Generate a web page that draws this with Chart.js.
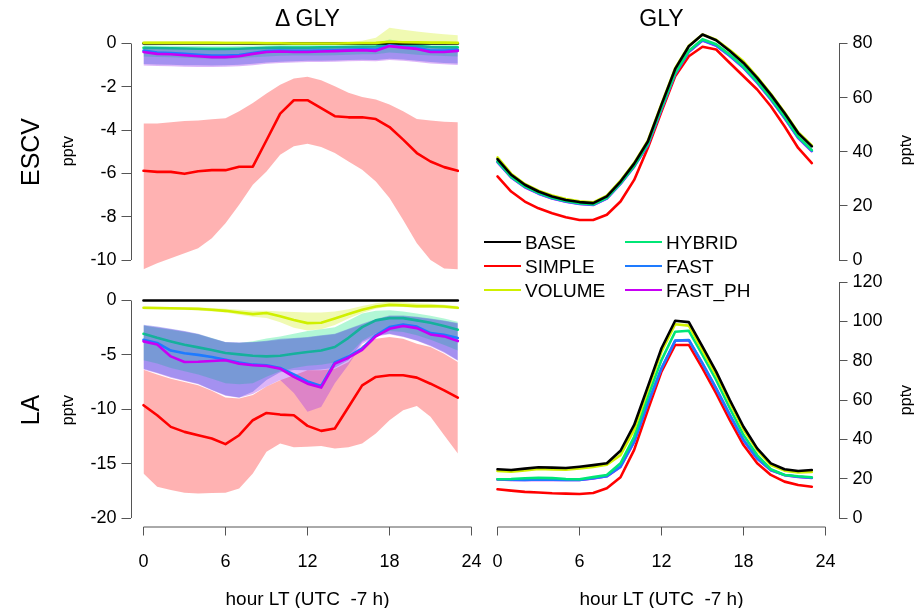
<!DOCTYPE html>
<html>
<head>
<meta charset="utf-8">
<script src="https://cdn.jsdelivr.net/npm/chart.js@4.4.1/dist/chart.umd.min.js"></script>
<style>
  body { margin: 0; background: #fff; font-family: "Liberation Sans", Arial, sans-serif; }
  #fig { position: relative; width: 922px; height: 608px; overflow: hidden; }
  #fig canvas { position: absolute; left: 0; top: 0; }
  .t { position: absolute; white-space: pre; color: #000; line-height: 1; }
  .c { transform: translate(-50%, -50%); }
  .r { transform: translate(-50%, -50%) rotate(-90deg); }
  .sw { position: absolute; width: 37px; height: 0; border-top: 2.5px solid; transform: translateY(-50%); }
  .lt { position: absolute; font-size: 19px; line-height: 1; transform: translateY(-50%); }
</style>
</head>
<body>
<div id="fig">
  <canvas id="tl" width="922" height="608"></canvas>
  <canvas id="bl" width="922" height="608"></canvas>
  <canvas id="tr" width="922" height="608"></canvas>
  <canvas id="br" width="922" height="608"></canvas>

  <div class="t c" style="left:307.5px;top:18px;font-size:23px">Δ GLY</div>
  <div class="t c" style="left:661.5px;top:18px;font-size:23px">GLY</div>
  <div class="t r" style="left:30px;top:152px;font-size:25px">ESCV</div>
  <div class="t r" style="left:30px;top:410px;font-size:25px">LA</div>
  <div class="t r" style="left:68px;top:151px;font-size:16px">pptv</div>
  <div class="t r" style="left:68px;top:410px;font-size:16px">pptv</div>
  <div class="t r" style="left:906px;top:150px;font-size:16px">pptv</div>
  <div class="t r" style="left:906px;top:400px;font-size:16px">pptv</div>
  <div class="t c" style="left:307.5px;top:598px;font-size:19px">hour LT (UTC  -7 h)</div>
  <div class="t c" style="left:661.5px;top:598px;font-size:19px">hour LT (UTC  -7 h)</div>
  <div id="legend"></div>
</div>

<script>
// hours of the day (local time)
const hours = [0,1,2,3,4,5,6,7,8,9,10,11,12,13,14,15,16,17,18,19,20,21,22,23];

const xTicks = [0, 6, 12, 18, 24];
const escvDeltaTicks = [0, -2, -4, -6, -8, -10];
const laDeltaTicks = [0, -5, -10, -15, -20];
const escvGlyTicks = [0, 20, 40, 60, 80];
const laGlyTicks = [0, 20, 40, 60, 80, 100, 120];

const seriesNames = ['BASE', 'SIMPLE', 'VOLUME', 'HYBRID', 'FAST', 'FAST_PH'];

// ---- ESCV, difference to BASE (pptv) ----
const escvDeltaBase = [0,0,0,0,0,0,0,0,0,0,0,0,0,0,0,0,0,0,0,0,0,0,0,0];
const escvDeltaSimple = [-5.88,-5.93,-5.93,-6.02,-5.90,-5.85,-5.85,-5.69,-5.69,-4.47,-3.24,-2.62,-2.62,-2.99,-3.36,-3.41,-3.41,-3.49,-3.86,-4.44,-5.06,-5.45,-5.71,-5.88];
const escvDeltaSimpleHi = [-3.70,-3.70,-3.64,-3.58,-3.56,-3.50,-3.45,-3.13,-2.75,-2.31,-1.91,-1.62,-1.54,-1.70,-1.97,-2.28,-2.47,-2.59,-2.82,-3.13,-3.49,-3.56,-3.61,-3.64];
const escvDeltaSimpleLo = [-10.43,-10.15,-9.92,-9.69,-9.46,-8.99,-8.30,-7.45,-6.53,-5.91,-5.14,-4.75,-4.63,-4.78,-5.06,-5.45,-5.83,-6.37,-7.14,-8.15,-9.23,-10.00,-10.39,-10.43];
const escvDeltaVolume = [0.03,0.03,0.03,0.03,0.03,0.03,0.02,0.02,0.02,0.01,0.01,0.00,0.00,0.00,0.00,0.01,0.02,0.03,0.08,0.06,0.05,0.04,0.04,0.03];
const escvDeltaVolumeHi = [0.12,0.12,0.12,0.11,0.11,0.11,0.10,0.10,0.10,0.09,0.09,0.08,0.08,0.08,0.08,0.09,0.13,0.26,0.73,0.64,0.56,0.49,0.43,0.38];
const escvDeltaVolumeLo = [-0.06,-0.06,-0.06,-0.06,-0.06,-0.06,-0.06,-0.06,-0.06,-0.07,-0.07,-0.07,-0.07,-0.07,-0.07,-0.06,-0.06,-0.05,-0.04,-0.04,-0.05,-0.05,-0.05,-0.06];
const escvDeltaHybrid = [-0.20,-0.21,-0.22,-0.23,-0.24,-0.25,-0.25,-0.24,-0.22,-0.20,-0.19,-0.19,-0.19,-0.18,-0.17,-0.16,-0.15,-0.14,-0.04,-0.08,-0.11,-0.16,-0.18,-0.18];
const escvDeltaHybridHi = [-0.08,-0.09,-0.10,-0.11,-0.12,-0.13,-0.13,-0.12,-0.10,-0.08,-0.07,-0.07,-0.07,-0.06,-0.05,-0.04,-0.02,0.00,0.18,0.08,0.02,-0.04,-0.06,-0.07];
const escvDeltaHybridLo = [-0.60,-0.62,-0.64,-0.66,-0.68,-0.70,-0.70,-0.68,-0.64,-0.60,-0.57,-0.56,-0.55,-0.55,-0.54,-0.52,-0.50,-0.50,-0.42,-0.46,-0.52,-0.56,-0.58,-0.60];
const escvDeltaFast = [-0.33,-0.42,-0.44,-0.48,-0.52,-0.56,-0.56,-0.53,-0.44,-0.35,-0.33,-0.34,-0.34,-0.33,-0.31,-0.29,-0.27,-0.28,-0.08,-0.15,-0.20,-0.33,-0.33,-0.29];
const escvDeltaFastHi = [-0.15,-0.16,-0.17,-0.19,-0.20,-0.22,-0.22,-0.20,-0.17,-0.15,-0.14,-0.15,-0.15,-0.14,-0.13,-0.12,-0.10,-0.10,0.02,-0.02,-0.06,-0.12,-0.14,-0.15];
const escvDeltaFastLo = [-0.95,-0.97,-0.98,-1.00,-1.01,-1.02,-1.00,-0.98,-0.94,-0.88,-0.84,-0.82,-0.80,-0.80,-0.78,-0.76,-0.75,-0.76,-0.70,-0.74,-0.80,-0.86,-0.90,-0.92];
const escvDeltaPh = [-0.39,-0.48,-0.50,-0.54,-0.59,-0.63,-0.63,-0.59,-0.48,-0.39,-0.37,-0.39,-0.39,-0.37,-0.35,-0.33,-0.31,-0.34,-0.12,-0.19,-0.25,-0.39,-0.39,-0.34];
const escvDeltaPhHi = [-0.16,-0.17,-0.18,-0.20,-0.21,-0.23,-0.23,-0.21,-0.18,-0.16,-0.15,-0.16,-0.16,-0.15,-0.14,-0.13,-0.11,-0.11,0.01,-0.03,-0.07,-0.13,-0.15,-0.16];
const escvDeltaPhLo = [-1.02,-1.04,-1.05,-1.07,-1.08,-1.09,-1.07,-1.05,-1.00,-0.94,-0.90,-0.88,-0.86,-0.86,-0.84,-0.82,-0.81,-0.82,-0.76,-0.80,-0.86,-0.92,-0.96,-0.99];

// ---- LA, difference to BASE (pptv) ----
const laDeltaBase = [0,0,0,0,0,0,0,0,0,0,0,0,0,0,0,0,0,0,0,0,0,0,0,0];
const laDeltaSimple = [-9.63,-10.55,-11.62,-12.08,-12.39,-12.69,-13.21,-12.39,-11.01,-10.34,-10.49,-10.55,-11.53,-11.99,-11.77,-9.79,-7.80,-7.03,-6.88,-6.88,-7.09,-7.65,-8.26,-8.93];
const laDeltaSimpleHi = [-6.36,-6.80,-7.20,-7.50,-7.80,-8.30,-8.93,-9.00,-8.70,-7.90,-7.34,-6.88,-6.42,-6.42,-6.27,-5.66,-4.13,-3.52,-3.36,-3.52,-3.97,-4.28,-4.89,-5.66];
const laDeltaSimpleLo = [-15.90,-17.13,-17.43,-17.68,-17.74,-17.70,-17.68,-17.28,-15.90,-13.91,-13.15,-13.50,-13.45,-13.39,-13.60,-13.50,-13.15,-12.23,-11.01,-10.09,-9.69,-10.70,-12.39,-14.07];
const laDeltaVolume = [-0.67,-0.69,-0.71,-0.74,-0.77,-0.85,-0.95,-1.10,-1.25,-1.15,-1.45,-1.80,-2.08,-2.05,-1.65,-1.25,-0.86,-0.55,-0.40,-0.45,-0.52,-0.50,-0.55,-0.67];
const laDeltaVolumeHi = [-0.55,-0.57,-0.60,-0.62,-0.65,-0.70,-0.75,-0.85,-0.95,-0.95,-1.00,-1.05,-1.10,-1.10,-1.00,-0.80,-0.50,-0.25,-0.10,-0.15,-0.25,-0.30,-0.40,-0.50];
const laDeltaVolumeLo = [-0.80,-0.82,-0.85,-0.88,-0.90,-1.00,-1.10,-1.30,-1.50,-1.60,-2.00,-2.50,-2.75,-2.65,-2.25,-1.65,-1.15,-0.75,-0.55,-0.60,-0.70,-0.70,-0.72,-0.80];
const laDeltaHybrid = [-3.06,-3.43,-3.76,-4.07,-4.31,-4.56,-4.83,-4.95,-5.08,-5.14,-5.08,-4.89,-4.74,-4.59,-4.28,-3.43,-2.45,-1.83,-1.62,-1.62,-1.83,-2.05,-2.35,-2.69];
const laDeltaHybridHi = [-2.30,-2.50,-2.70,-2.90,-3.10,-3.45,-3.85,-3.90,-3.75,-3.50,-3.30,-3.05,-2.80,-2.65,-2.45,-1.85,-1.20,-0.95,-0.90,-1.00,-1.20,-1.40,-1.65,-1.95];
const laDeltaHybridLo = [-5.50,-5.80,-6.20,-6.50,-6.80,-7.20,-7.60,-7.70,-7.60,-7.00,-6.50,-6.20,-6.00,-5.90,-5.70,-5.00,-3.70,-3.00,-2.80,-2.90,-3.20,-3.60,-4.10,-4.60];
const laDeltaFast = [-3.61,-3.90,-4.60,-4.85,-5.00,-5.20,-5.45,-5.70,-5.90,-5.95,-6.20,-6.80,-7.45,-7.85,-5.70,-5.15,-4.40,-3.20,-2.45,-2.20,-2.40,-3.00,-3.15,-3.45];
const laDeltaFastHi = [-2.23,-2.40,-2.60,-2.80,-3.06,-3.45,-3.82,-3.85,-3.82,-3.70,-3.52,-3.45,-3.36,-3.20,-3.06,-2.60,-2.14,-1.70,-1.38,-1.38,-1.50,-1.65,-1.83,-2.08];
const laDeltaFastLo = [-6.27,-6.65,-7.03,-7.35,-7.65,-8.20,-8.72,-8.93,-8.40,-7.30,-6.60,-6.40,-6.42,-6.35,-6.18,-5.50,-3.82,-3.21,-3.06,-3.30,-3.67,-4.13,-4.74,-5.50];
const laDeltaPh = [-3.76,-4.04,-5.14,-5.66,-5.63,-5.57,-5.50,-5.81,-5.96,-6.02,-6.27,-7.03,-7.65,-8.01,-5.81,-5.26,-4.53,-3.30,-2.60,-2.35,-2.54,-3.12,-3.30,-3.73];
const laDeltaPhHi = [-2.30,-2.45,-2.65,-2.85,-3.10,-3.50,-3.85,-3.90,-3.85,-3.75,-3.60,-3.50,-3.40,-3.25,-3.10,-2.65,-2.20,-1.75,-1.45,-1.45,-1.55,-1.70,-1.88,-2.12];
const laDeltaPhLo = [-6.35,-6.70,-7.10,-7.40,-7.70,-8.25,-8.75,-8.95,-8.60,-7.90,-7.30,-8.50,-10.24,-9.79,-7.60,-5.90,-4.00,-3.30,-3.10,-3.35,-3.70,-4.20,-4.80,-5.55];

// ---- ESCV, GLY mixing ratio (pptv) ----
const escvGlyBase = [37.3,31.5,27.8,25.3,23.5,22.2,21.4,21.0,23.5,29.0,35.6,43.8,57.4,70.6,79.0,83.3,81.2,77.2,72.8,67.3,61.1,54.3,46.9,42.0];
const escvGlySimple = [30.9,25.3,21.6,19.1,17.3,15.8,14.8,14.8,16.7,21.6,29.6,41.4,54.9,67.9,75.3,78.8,77.8,72.8,67.9,63.0,56.8,49.4,41.4,35.8];
const escvGlyVolume = [37.9,31.9,28.1,25.6,23.8,22.5,21.7,21.3,23.8,29.3,35.9,44.1,57.7,70.9,79.2,83.3,81.4,77.6,73.4,67.7,61.4,54.6,47.2,42.3];
const escvGlyHybrid = [36.5,30.8,27.2,24.8,23.0,21.8,21.0,20.6,23.0,28.4,34.8,42.9,56.2,69.1,77.3,81.6,79.7,75.9,71.5,66.0,59.8,53.0,45.6,40.6];
const escvGlyFast = [36.3,30.6,27.0,24.6,22.8,21.6,20.8,20.4,22.8,28.2,34.6,42.6,55.9,68.8,77.0,81.2,79.3,75.5,71.1,65.6,59.4,52.6,45.2,40.3];
const escvGlyPh = [36.2,30.5,26.9,24.5,22.7,21.5,20.7,20.3,22.7,28.1,34.5,42.5,55.8,68.7,76.9,81.1,79.2,75.4,71.0,65.5,59.3,52.5,45.1,40.2];

// ---- LA, GLY mixing ratio (pptv) ----
const laGlyBase = [24.8,24.4,25.1,25.8,25.6,25.4,26.1,26.9,27.8,34.2,47.3,66.8,86.3,100.3,99.6,87.1,74.4,60.0,46.4,35.4,27.8,24.8,23.9,24.4];
const laGlySimple = [14.6,13.9,13.3,13.0,12.6,12.4,12.2,12.7,15.1,20.7,34.6,54.9,74.4,88.0,88.0,76.1,63.4,49.8,37.1,27.8,21.9,18.5,16.8,15.9];
const laGlyVolume = [23.9,23.6,24.2,24.9,24.7,24.5,25.2,26.0,27.1,32.0,44.8,65.1,84.6,98.5,97.8,85.3,72.7,58.6,45.0,34.5,26.9,24.1,23.2,23.4];
const laGlyHybrid = [19.7,19.8,20.2,20.5,20.3,19.8,19.7,20.8,21.9,27.8,41.3,61.7,80.3,94.7,95.2,82.9,70.2,55.8,42.2,32.0,24.8,21.9,21.2,20.7];
const laGlyFast = [19.7,19.5,19.4,19.6,19.5,19.4,19.4,20.2,21.3,26.1,38.8,58.3,76.1,90.2,90.5,78.6,65.9,52.4,39.7,30.3,24.4,21.9,21.0,20.5];
const laGlyPh = [19.6,19.4,19.3,19.5,19.4,19.3,19.3,20.1,21.2,26.0,38.7,58.2,76.0,90.1,90.4,78.5,65.8,52.3,39.6,30.2,24.3,21.8,20.9,20.4];

// styles
const lineColors = {
  BASE: '#000000', SIMPLE: '#ff0000', VOLUME: '#d0f000',
  HYBRID: '#00e676', FAST: '#1e7bff', FAST_PH: '#c800f5'
};
const bandColors = {
  SIMPLE: 'rgba(255,0,0,0.3)', VOLUME: 'rgba(205,240,0,0.3)',
  HYBRID: 'rgba(0,230,120,0.3)', FAST: 'rgba(60,80,225,0.36)', FAST_PH: 'rgba(160,50,235,0.36)'
};

Chart.defaults.font.family = '"Liberation Sans", Arial, sans-serif';

const pts = ys => hours.map((h, i) => ({ x: h, y: ys[i] }));

// z: higher is drawn on top
function line(name, ys, z) {
  return { label: name, data: pts(ys), borderColor: lineColors[name], borderWidth: 2.6,
    borderJoinStyle: 'round', borderCapStyle: 'round', pointRadius: 0, fill: false, order: 100 - z };
}
function band(name, lo, hi, z) {
  return [
    { label: name + ' lo', data: pts(lo), borderColor: 'rgba(0,0,0,0)', borderWidth: 0,
      pointRadius: 0, fill: false, order: 100 - z },
    { label: name + ' hi', data: pts(hi), borderColor: 'rgba(0,0,0,0)', borderWidth: 0,
      pointRadius: 0, fill: '-1', backgroundColor: bandColors[name], order: 100 - z }
  ];
}

// R-like axis line that spans only the tick range
const axisLines = {
  id: 'axisLines',
  afterDraw(chart) {
    const { ctx, chartArea } = chart;
    ctx.save();
    ctx.strokeStyle = '#555';
    ctx.lineWidth = 1;
    Object.values(chart.scales).forEach(s => {
      if (!s.options.display || !s.ticks.length) return;
      const a = s.getPixelForValue(s.ticks[0].value);
      const b = s.getPixelForValue(s.ticks[s.ticks.length - 1].value);
      ctx.beginPath();
      if (s.axis === 'x') {
        ctx.moveTo(a, chartArea.bottom + 0.5); ctx.lineTo(b, chartArea.bottom + 0.5);
      } else {
        const x = Math.round(s.position === 'right' ? chartArea.right : chartArea.left) + 0.5;
        ctx.moveTo(x, a); ctx.lineTo(x, b);
      }
      ctx.stroke();
    });
    ctx.restore();
  }
};

function axis(ticks, min, max, show, position, size, pad) {
  return {
    type: 'linear', position, display: show, min, max,
    afterBuildTicks: s => { s.ticks = ticks.map(v => ({ value: v })); },
    afterFit: s => {
      if (!s.options.display) return;
      if (s.isHorizontal()) s.height = size; else s.width = size;
    },
    border: { display: false },
    grid: { drawOnChartArea: false, drawTicks: true, tickLength: 9, color: '#555', lineWidth: 1 },
    ticks: { autoSkip: false, maxRotation: 0, padding: pad, color: '#000', font: { size: 18 } }
  };
}

// map pixel anchors to axis values so that each chart area sits where the figure needs it
function lin(p0, v0, p1, v1) { return p => v0 + (p - p0) * (v1 - v0) / (p1 - p0); }

function panel(id, p) {
  const fx = lin(p.xa[0], p.xa[1], p.xa[2], p.xa[3]);
  const fy = lin(p.ya[0], p.ya[1], p.ya[2], p.ya[3]);
  const W = 60, H = 60;
  const pad = {
    left: p.area.left - (p.yPos === 'left' ? W : 0),
    right: 922 - p.area.right - (p.yPos === 'right' ? W : 0),
    top: p.area.top,
    bottom: 608 - p.area.bottom - (p.xShow ? H : 0)
  };
  return new Chart(document.getElementById(id), {
    type: 'line',
    data: { datasets: p.datasets },
    options: {
      responsive: false, animation: false, events: [],
      layout: { padding: pad },
      plugins: { legend: { display: false }, tooltip: { enabled: false } },
      scales: {
        x: axis(xTicks, fx(p.area.left), fx(p.area.right), p.xShow, 'bottom', H, 16),
        y: axis(p.yTicks, fy(p.area.bottom), fy(p.area.top), true, p.yPos, W, 5)
      }
    },
    plugins: [axisLines]
  });
}

function deltaSets(d) {
  return [
    ...band('SIMPLE', d.simpleLo, d.simpleHi, 1),
    line('SIMPLE', d.simple, 2),
    ...band('VOLUME', d.volumeLo, d.volumeHi, 3),
    ...band('FAST_PH', d.phLo, d.phHi, 4),
    ...band('HYBRID', d.hybridLo, d.hybridHi, 5),
    line('HYBRID', d.hybrid, 6),
    ...band('FAST', d.fastLo, d.fastHi, 7),
    line('BASE', d.base, 8),
    line('VOLUME', d.volume, 9),
    line('FAST', d.fast, 10),
    line('FAST_PH', d.ph, 11)
  ];
}
function glySets(g) {
  return [
    line('SIMPLE', g.simple, 1),
    line('FAST_PH', g.ph, 2),
    line('FAST', g.fast, 3),
    line('HYBRID', g.hybrid, 4),
    line('VOLUME', g.volume, 5),
    line('BASE', g.base, 6)
  ];
}

panel('tl', {
  area: { left: 130.5, right: 484.5, top: 20, bottom: 278 },
  xa: [143.5, 0, 471.5, 24], ya: [43.5, 0, 260, -10],
  xShow: false, yPos: 'left', yTicks: escvDeltaTicks,
  datasets: deltaSets({
    base: escvDeltaBase, simple: escvDeltaSimple, simpleLo: escvDeltaSimpleLo, simpleHi: escvDeltaSimpleHi,
    volume: escvDeltaVolume, volumeLo: escvDeltaVolumeLo, volumeHi: escvDeltaVolumeHi,
    hybrid: escvDeltaHybrid, hybridLo: escvDeltaHybridLo, hybridHi: escvDeltaHybridHi,
    fast: escvDeltaFast, fastLo: escvDeltaFastLo, fastHi: escvDeltaFastHi,
    ph: escvDeltaPh, phLo: escvDeltaPhLo, phHi: escvDeltaPhHi
  })
});

panel('bl', {
  area: { left: 130.5, right: 484.5, top: 293, bottom: 526.5 },
  xa: [143.5, 0, 471.5, 24], ya: [300.5, 0, 518, -20],
  xShow: true, yPos: 'left', yTicks: laDeltaTicks,
  datasets: deltaSets({
    base: laDeltaBase, simple: laDeltaSimple, simpleLo: laDeltaSimpleLo, simpleHi: laDeltaSimpleHi,
    volume: laDeltaVolume, volumeLo: laDeltaVolumeLo, volumeHi: laDeltaVolumeHi,
    hybrid: laDeltaHybrid, hybridLo: laDeltaHybridLo, hybridHi: laDeltaHybridHi,
    fast: laDeltaFast, fastLo: laDeltaFastLo, fastHi: laDeltaFastHi,
    ph: laDeltaPh, phLo: laDeltaPhLo, phHi: laDeltaPhHi
  })
});

panel('tr', {
  area: { left: 484.5, right: 838.5, top: 20, bottom: 270 },
  xa: [497.5, 0, 825.5, 24], ya: [260, 0, 43.5, 80],
  xShow: false, yPos: 'right', yTicks: escvGlyTicks,
  datasets: glySets({
    base: escvGlyBase, simple: escvGlySimple, volume: escvGlyVolume,
    hybrid: escvGlyHybrid, fast: escvGlyFast, ph: escvGlyPh
  })
});

panel('br', {
  area: { left: 484.5, right: 838.5, top: 276, bottom: 526.5 },
  xa: [497.5, 0, 825.5, 24], ya: [518, 0, 282, 120],
  xShow: true, yPos: 'right', yTicks: laGlyTicks,
  datasets: glySets({
    base: laGlyBase, simple: laGlySimple, volume: laGlyVolume,
    hybrid: laGlyHybrid, fast: laGlyFast, ph: laGlyPh
  })
});

// legend, two columns of three
const legend = document.getElementById('legend');
const legendCols = [484, 625];
const legendRows = [242, 266, 290];
seriesNames.forEach((name, i) => {
  const x = legendCols[Math.floor(i / 3)];
  const y = legendRows[i % 3];
  const sw = document.createElement('div');
  sw.className = 'sw';
  sw.style.left = x + 'px';
  sw.style.top = y + 'px';
  sw.style.borderColor = lineColors[name];
  legend.appendChild(sw);
  const tx = document.createElement('div');
  tx.className = 'lt';
  tx.style.left = (x + 41) + 'px';
  tx.style.top = y + 'px';
  tx.textContent = name;
  legend.appendChild(tx);
});
</script>
</body>
</html>
